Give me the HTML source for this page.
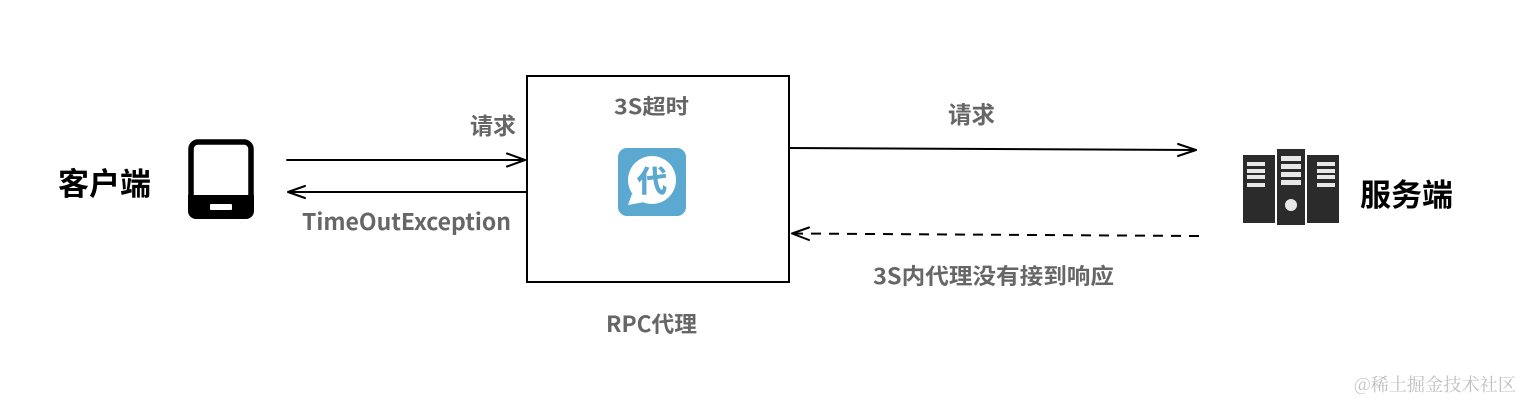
<!DOCTYPE html>
<html>
<head>
<meta charset="utf-8">
<style>
html,body{margin:0;padding:0;background:#fff;}
svg{display:block;}
text{font-family:"Noto Sans CJK SC","Liberation Sans",sans-serif;}
</style>
</head>
<body>
<svg width="1520" height="400" viewBox="0 0 1520 400" xmlns="http://www.w3.org/2000/svg">
<rect width="1520" height="400" fill="#fff"/>

<!-- RPC box -->
<rect x="527" y="76" width="262" height="206" fill="none" stroke="#000" stroke-width="2"/>

<!-- client tablet -->
<rect x="191" y="142" width="60" height="74" rx="7" fill="#fff" stroke="#000" stroke-width="5.500"/>
<path d="M188 195h66v16a8 8 0 0 1-8 8h-50a8 8 0 0 1-8-8z" fill="#000"/>
<rect x="210" y="204" width="22" height="6" rx="1" fill="#fff"/>

<!-- arrows -->
<g fill="none" stroke="#000" stroke-width="2" stroke-linejoin="round" stroke-linecap="round">
<path d="M287 160H525"/>
<path d="M507 153.500L525 160L507 166.500"/>
<path d="M527 192H289"/>
<path d="M305 186L288 192L305 198"/>
<path d="M789 148L1196 150"/>
<path d="M1178 144L1196 150L1178 156"/>
<path d="M1199 236L792 233.500" stroke-dasharray="10 8" stroke-linecap="butt"/>
<path d="M809 227.500L792 233.500L809 240"/>
</g>

<!-- dai icon -->
<rect x="618" y="148" width="68" height="68" rx="9" fill="#5ba8d0"/>
<circle cx="652" cy="180" r="24" fill="#fff"/>
<path d="M632 194L628 205L644 202z" fill="#fff"/>
<text x="652" y="192" font-size="30" font-weight="700" fill="#5ba8d0" stroke="#5ba8d0" stroke-width="0.500" text-anchor="middle">代</text>

<!-- servers -->
<g>
<rect x="1243" y="155" width="32" height="68" fill="#2b2b2b"/>
<rect x="1277" y="149" width="28" height="76" fill="#2b2b2b"/>
<rect x="1307" y="155" width="32" height="68" fill="#2b2b2b"/>
<g fill="#e8e8e8">
<rect x="1247" y="162" width="18" height="4"/>
<rect x="1247" y="169" width="18" height="4"/>
<rect x="1247" y="175" width="18" height="4"/>
<rect x="1247" y="183" width="18" height="4"/>
<rect x="1281" y="156" width="20" height="5"/>
<rect x="1281" y="164" width="20" height="5"/>
<rect x="1281" y="172" width="20" height="5"/>
<rect x="1281" y="180" width="20" height="5"/>
<rect x="1317" y="162" width="18" height="4"/>
<rect x="1317" y="169" width="18" height="4"/>
<rect x="1317" y="175" width="18" height="4"/>
<rect x="1317" y="183" width="18" height="4"/>
<circle cx="1291" cy="205" r="6"/>
</g>
</g>

<!-- labels -->
<text x="58" y="195" font-size="31" font-weight="700" fill="#000">客户端</text>
<text x="1360" y="206" font-size="31" font-weight="700" fill="#000">服务端</text>
<g font-weight="700" fill="#666" font-size="23">
<text x="470" y="134">请求</text>
<text x="948" y="123" font-size="23.500">请求</text>
<text x="614" y="114" font-size="21" textLength="75" lengthAdjust="spacingAndGlyphs">3S超时</text>
<text x="302" y="230" font-size="23" textLength="209" lengthAdjust="spacingAndGlyphs">TimeOutException</text>
<text x="873" y="284" font-size="22" textLength="241" lengthAdjust="spacingAndGlyphs">3S内代理没有接到响应</text>
<text x="606" y="332" font-size="22" textLength="91" lengthAdjust="spacingAndGlyphs">RPC代理</text>
</g>
<text x="1354" y="391" font-size="18" fill="#c0c0c0" textLength="162" lengthAdjust="spacingAndGlyphs" style="font-family:'Noto Serif CJK SC','Liberation Sans',serif">@稀土掘金技术社区</text>
</svg>
</body>
</html>
